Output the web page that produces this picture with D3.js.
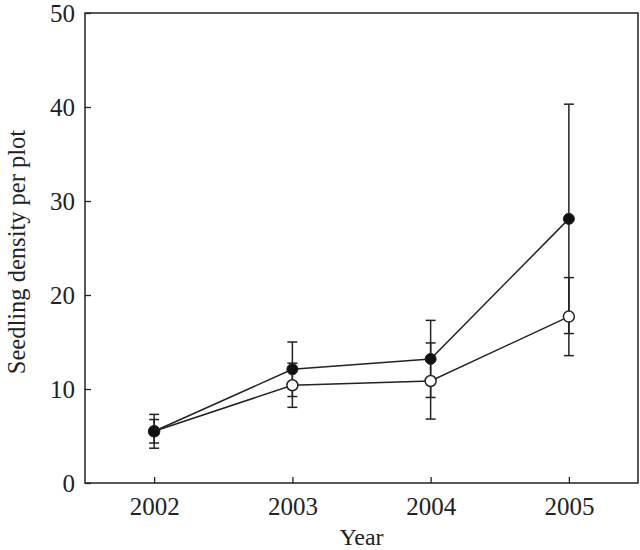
<!DOCTYPE html>
<html>
<head>
<meta charset="utf-8">
<script src="https://cdn.jsdelivr.net/npm/d3@7"></script>
<style>
  body { margin: 0; background: #fff; }
  text { font-family: "Liberation Serif", "DejaVu Serif", serif; fill: #222; }
</style>
</head>
<body>
<svg id="chart" width="640" height="550"></svg>
<script>
// values
var years = [2002, 2003, 2004, 2005];
var filledMean = [5.5, 12.1, 13.2, 28.1];
var filledErr = [1.8, 2.9, 4.1, 12.2];
var openMean = [5.5, 10.4, 10.85, 17.7];
var openErr = [1.25, 2.35, 4.05, 4.15];
var yTicks = [0, 10, 20, 30, 40, 50];

var svg = d3.select("#chart");
var margin = {left: 85, right: 2, top: 13, bottom: 67};
var width = 640 - margin.left - margin.right,
    height = 550 - margin.top - margin.bottom;

var g = svg.append("g").attr("transform", "translate(" + margin.left + "," + margin.top + ")");

var x = d3.scaleLinear().domain([2001.5, 2005.5]).range([0, width]);
var y = d3.scaleLinear().domain([0, 50]).range([height, 0]);

// frame
g.append("rect")
    .attr("width", width).attr("height", height)
    .attr("fill", "none").attr("stroke", "#222").attr("stroke-width", 1.5);

// axes with inward ticks
var yAxis = g.append("g")
    .call(d3.axisLeft(y).tickValues(yTicks).tickSize(-6).tickPadding(10).tickFormat(d3.format("d")));
var xAxis = g.append("g")
    .attr("transform", "translate(0," + height + ")")
    .call(d3.axisBottom(x).tickValues(years).tickSize(-6).tickPadding(11).tickFormat(d3.format("d")));

[xAxis, yAxis].forEach(function(a) {
    a.select(".domain").remove();
    a.selectAll("line").attr("stroke", "#222").attr("stroke-width", 1.3);
    a.selectAll("text").style("font-size", "25px").attr("fill", "#222")
        .style("font-family", "'Liberation Serif', serif");
});
yAxis.selectAll("text").attr("dy", "0.35em");
xAxis.selectAll("text").attr("dy", "0.85em");

// axis titles
svg.append("text")
    .attr("x", margin.left + x(2003.5)).attr("y", 545)
    .attr("text-anchor", "middle").style("font-size", "24px")
    .text("Year");
svg.append("text")
    .attr("transform", "translate(25," + (margin.top + height / 2 + 4) + ") rotate(-90)")
    .attr("text-anchor", "middle").style("font-size", "24.5px")
    .text("Seedling density per plot");

function drawSeries(means, errs) {
    var pts = years.map(function(yr, i) { return {x: yr, m: means[i], e: errs[i]}; });

    var bars = g.append("g").selectAll("g").data(pts).enter().append("g");
    bars.append("line")
        .attr("x1", function(d) { return x(d.x); }).attr("x2", function(d) { return x(d.x); })
        .attr("y1", function(d) { return y(d.m - d.e); }).attr("y2", function(d) { return y(d.m + d.e); })
        .attr("stroke", "#222").attr("stroke-width", 1.5);
    [-1, 1].forEach(function(s) {
        bars.append("line")
            .attr("x1", function(d) { return x(d.x) - 5; }).attr("x2", function(d) { return x(d.x) + 5; })
            .attr("y1", function(d) { return y(d.m + s * d.e); }).attr("y2", function(d) { return y(d.m + s * d.e); })
            .attr("stroke", "#222").attr("stroke-width", 1.5);
    });

    g.append("path")
        .datum(pts)
        .attr("fill", "none").attr("stroke", "#222").attr("stroke-width", 1.5)
        .attr("d", d3.line().x(function(d) { return x(d.x); }).y(function(d) { return y(d.m); }));

    return pts;
}

var openPts = drawSeries(openMean, openErr);
var filledPts = drawSeries(filledMean, filledErr);

g.append("g").selectAll("circle").data(openPts).enter().append("circle")
    .attr("cx", function(d) { return x(d.x); }).attr("cy", function(d) { return y(d.m); })
    .attr("r", 5.5).attr("fill", "#fff").attr("stroke", "#222").attr("stroke-width", 1.5);
g.append("g").selectAll("circle").data(filledPts).enter().append("circle")
    .attr("cx", function(d) { return x(d.x); }).attr("cy", function(d) { return y(d.m); })
    .attr("r", 5.5).attr("fill", "#111").attr("stroke", "#222").attr("stroke-width", 1);
</script>
</body>
</html>
